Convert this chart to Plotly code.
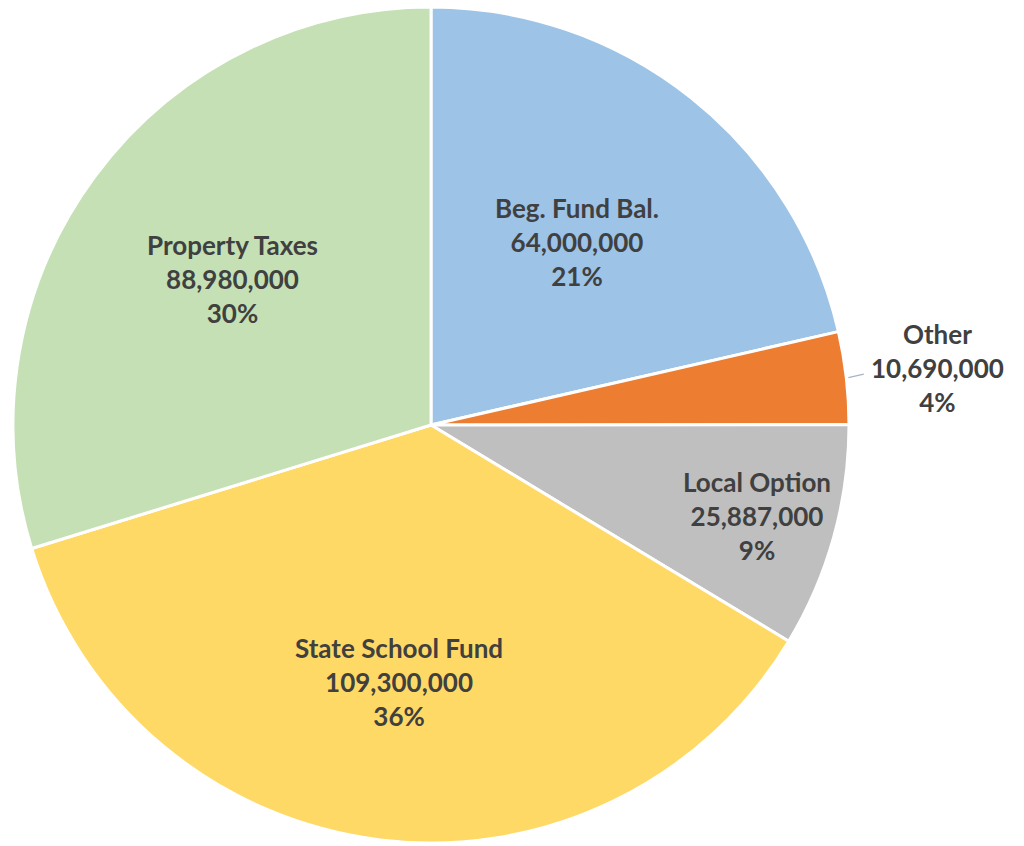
import math
import plotly.graph_objects as go

# Revenue sources (clockwise from 12 o'clock)
categories = ["Beg. Fund Bal.", "Other", "Local Option", "State School Fund", "Property Taxes"]
amounts = [64000000, 10690000, 25887000, 109300000, 88980000]
percent_labels = ["21%", "4%", "9%", "36%", "30%"]

colors = ["#9DC3E6", "#ED7D31", "#BFBFBF", "#FFD966", "#C5E0B4"]
# radial placement of each label, as a fraction of the pie radius
label_radius = [0.56, 1.22, 0.81, 0.62, 0.59]

W, H = 1024, 846
CX, CY, R = 431, 425, 418  # pie centre and radius in pixels

fig = go.Figure(
    go.Pie(
        labels=categories,
        values=amounts,
        sort=False,
        direction="clockwise",
        rotation=0,
        marker=dict(colors=colors, line=dict(color="white", width=3)),
        textinfo="none",
        hoverinfo="label+value+percent",
        showlegend=False,
        domain=dict(x=[(CX - R) / W, (CX + R) / W], y=[1 - (CY + R) / H, 1 - (CY - R) / H]),
    )
)

total = sum(amounts)
cum = 0
annotations = []
for name, val, pct, rf in zip(categories, amounts, percent_labels, label_radius):
    mid = (cum + val / 2) / total * 2 * math.pi
    cum += val
    px = CX + rf * R * math.sin(mid)
    py = CY - rf * R * math.cos(mid)
    text = f"{name}<br>{val:,}<br>{pct}"
    if rf > 1:
        # leader line from the slice edge toward the outside label
        ex = CX + (R + 2) * math.sin(mid)
        ey = CY - (R + 2) * math.cos(mid)
        annotations.append(dict(
            x=ex / W, y=1 - ey / H, xref="paper", yref="paper",
            ax=17, ay=-4, text="", showarrow=True,
            arrowhead=0, arrowwidth=1.2, arrowcolor="#A6B5C8",
        ))
    annotations.append(dict(
        x=px / W, y=1 - py / H, xref="paper", yref="paper",
        xanchor="center", yanchor="middle",
        text=text, showarrow=False, align="center",
        font=dict(family="Lato", size=26, color="#404040", weight="bold"),
    ))

fig.update_layout(
    width=W, height=H,
    margin=dict(l=0, r=0, t=0, b=0),
    paper_bgcolor="white",
    annotations=annotations,
)

fig.write_html("out.html")
